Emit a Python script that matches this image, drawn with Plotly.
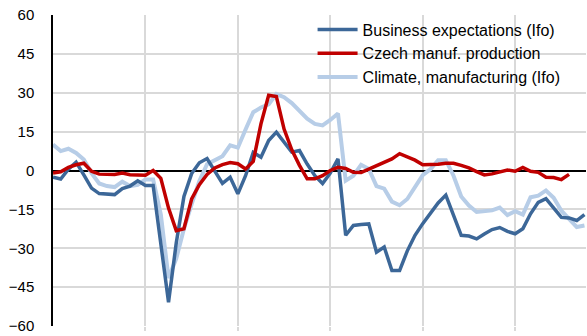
import plotly.graph_objects as go

# Monthly observations, index 0..69
months = list(range(70))

business_expectations = [
    -2.6, -3.3, 0.5, 3.2, -1.7, -6.8, -8.9, -9.2, -9.3, -7.0,
    -6.0, -4.0, -5.8, -5.8, -29.0, -50.8, -28.0, -10.0, -1.2, 3.0,
    4.6, 0.0, -5.0, -2.6, -9.0, -2.0, 7.0, 5.1, 11.6, 14.8,
    10.9, 7.1, 7.7, 2.5, -2.0, -5.0, -1.0, 4.5, -25.0, -21.2,
    -20.8, -20.6, -31.5, -29.5, -38.6, -38.6, -31.0, -25.0, -20.5, -16.5,
    -12.5, -9.5, -17.5, -25.0, -25.3, -26.4, -24.5, -22.8, -22.0, -23.5,
    -24.4, -22.5, -16.7, -12.3, -10.9, -14.5, -18.1, -18.3, -19.3, -17.0,
]

czech_production = [
    -1.0, -0.5, 1.2, 2.2, 2.8, -0.3, -1.4, -1.6, -1.5, -1.0,
    -1.6, -1.7, -1.8, 0.0, -3.0, -14.5, -23.2, -22.5, -11.0, -5.5,
    -1.5, 1.0, 2.3, 3.1, 2.6, 0.6, 3.5, 18.0, 29.0, 28.5,
    16.0, 8.0, 2.0, -3.2, -3.2, -2.0, 0.0, 1.2, 0.8, -0.7,
    -0.8, 0.5, 1.8, 3.0, 4.5, 6.5, 5.3, 4.0, 2.2, 2.2,
    2.4, 2.8, 2.8, 2.0, 1.0, -0.4, -1.7, -1.3, -0.5, 0.2,
    -0.3, 1.2, -0.3, -0.7, -2.6, -2.7, -3.5, -1.5,
]

climate_manufacturing = [
    10.0, 7.5, 8.4, 6.8, 4.2, -1.0, -5.0, -6.0, -6.4, -4.3,
    -6.0, -5.5, -3.5, -3.5, -17.0, -41.5, -34.0, -22.5, -13.0, -4.0,
    2.4, 3.8, 5.5, 9.7, 8.8, 15.8, 22.5, 24.3, 25.5, 29.5,
    28.3, 26.0, 22.8, 20.0, 18.0, 17.4, 19.5, 22.0, -3.9, -2.0,
    2.2, 0.6, -6.0, -7.0, -12.0, -13.4, -11.0, -6.5, -1.8, 0.5,
    4.0, 4.0, -2.0, -10.0, -13.5, -16.0, -15.8, -15.4, -14.3, -17.2,
    -15.7, -17.0, -10.3, -9.7, -7.7, -10.5, -15.5, -18.6, -21.8, -21.2,
]

y_ticks = [-60, -45, -30, -15, 0, 15, 30, 45, 60]
year_breaks = [12, 24, 36, 48, 60]

# (name, values, colour, width, legend rank); listed back-to-front
series = [
    ("Climate, manufacturing (Ifo)", climate_manufacturing, "#B7CDE7", 4.0, 3),
    ("Business expectations (Ifo)", business_expectations, "#3C6798", 3.5, 1),
    ("Czech manuf. production", czech_production, "#C00000", 3.5, 2),
]

fig = go.Figure()
for name, values, color, width, rank in series:
    fig.add_trace(go.Scatter(
        x=months[:len(values)], y=values, name=name, mode="lines",
        line=dict(color=color, width=width),
        legendgroup=name, legendrank=rank,
    ))

font_family = "Liberation Sans, Arial, sans-serif"

# white panel behind the legend that hides the gridlines but not the top one
fig.add_shape(
    type="rect", xref="paper", yref="paper",
    x0=0.445, x1=0.994, y0=0.762, y1=0.995,
    fillcolor="white", line=dict(width=0), layer="between",
)

fig.update_layout(
    width=587, height=336,
    margin=dict(l=53, r=1, t=15, b=10),
    paper_bgcolor="white", plot_bgcolor="white",
    font=dict(family=font_family, size=14, color="#000000"),
    showlegend=True,
    legend=dict(
        x=0.487, y=1.008, xanchor="left", yanchor="top",
        bgcolor="rgba(0,0,0,0)", borderwidth=0,
        font=dict(family=font_family, size=16, color="#000000"),
        traceorder="grouped", tracegroupgap=0,
        itemwidth=40,
    ),
    xaxis=dict(
        range=[0, 69.2], tickmode="array", tickvals=year_breaks,
        showticklabels=False, showgrid=True, gridcolor="#D9D9D9", gridwidth=1.5,
        ticks="outside", ticklen=4, tickcolor="#D9D9D9", tickwidth=1.5,
        zeroline=False, showline=False, fixedrange=True,
    ),
    yaxis=dict(
        range=[-60, 60], tickmode="array", tickvals=y_ticks,
        showgrid=True, gridcolor="#D9D9D9", gridwidth=1.5,
        zeroline=True, zerolinecolor="#000000", zerolinewidth=1.5,
        showline=True, linecolor="#000000", linewidth=1.5,
        ticks="", ticklabelstandoff=14,
        tickfont=dict(family=font_family, size=15, color="#000000"),
        fixedrange=True,
    ),
)

fig.write_html("out.html")
